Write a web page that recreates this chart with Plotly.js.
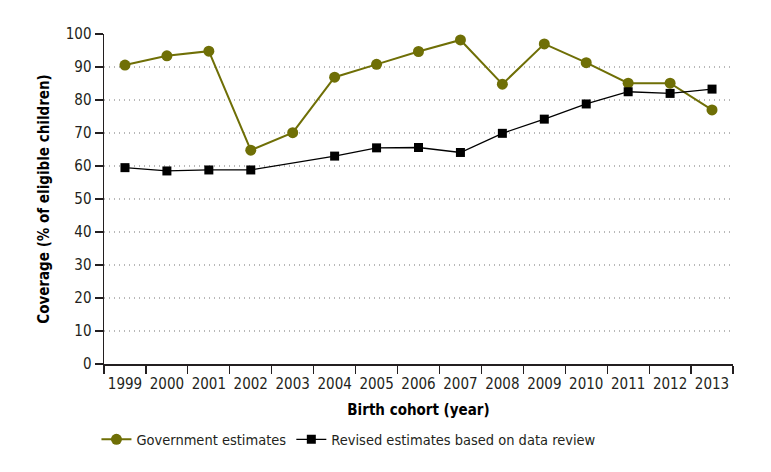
<!DOCTYPE html>
<html>
<head>
<meta charset="utf-8">
<script src="https://cdn.plot.ly/plotly-3.0.1.min.js"></script>
<style>html,body{margin:0;padding:0;background:#fff;}#chart{width:771px;height:472px;}</style>
</head>
<body>
<div id="chart"></div>
<script>
const years = ["1999","2000","2001","2002","2003","2004","2005","2006","2007","2008","2009","2010","2011","2012","2013"];
const governmentEstimates = [90.6, 93.4, 94.8, 64.8, 70.1, 86.9, 90.8, 94.7, 98.2, 84.8, 97.0, 91.3, 85.1, 85.1, 77.0];
const revisedEstimates = [59.5, 58.5, 58.8, 58.8, null, 63.0, 65.5, 65.6, 64.1, 69.9, 74.2, 78.8, 82.5, 82.0, 83.3];
const yTicks = [0,10,20,30,40,50,60,70,80,90,100];

const FONT = '"DejaVu Sans Condensed", "Liberation Sans Narrow", sans-serif';
const OLIVE = '#6f6f06';

const traces = [
  {
    x: years, y: governmentEstimates, name: 'Government estimates',
    type: 'scatter', mode: 'lines+markers',
    line: {color: OLIVE, width: 2},
    marker: {symbol: 'circle', size: 11, color: OLIVE}
  },
  {
    x: years, y: revisedEstimates, name: 'Revised estimates based on data review',
    type: 'scatter', mode: 'lines+markers', connectgaps: true,
    line: {color: '#000000', width: 1.3},
    marker: {symbol: 'square', size: 9, color: '#000000'}
  }
];

const layout = {
  width: 771, height: 472,
  margin: {l: 104, r: 38, t: 34, b: 108},
  paper_bgcolor: '#ffffff', plot_bgcolor: '#ffffff',
  font: {family: FONT, size: 14, color: '#231f20'},
  showlegend: true,
  legend: {orientation: 'h', x: -0.012, xanchor: 'left', y: -0.18, yanchor: 'top',
           font: {family: FONT, size: 14.5, color: '#231f20'}, itemwidth: 30, tracegroupgap: 0},
  xaxis: {
    type: 'category', range: [-0.5, 14.5],
    showline: true, linecolor: '#231f20', linewidth: 1.5,
    ticks: 'outside', tickson: 'boundaries', ticklen: 8, tickcolor: '#231f20', tickwidth: 1.2,
    ticklabelstandoff: 5,
    showgrid: false, zeroline: false, tickangle: 0,
    tickfont: {family: FONT, size: 15, color: '#231f20'},
    title: {text: '<b>Birth cohort (year)</b>', font: {family: FONT, size: 15, color: '#000'}, standoff: 13}
  },
  yaxis: {
    range: [0, 100], tickvals: yTicks, ticktext: yTicks.map(String),
    showline: true, linecolor: '#231f20', linewidth: 1.5,
    ticks: 'outside', ticklen: 8, tickcolor: '#231f20', tickwidth: 1.2,
    showgrid: true, gridcolor: '#b8b8b8', griddash: '1px,4px', gridwidth: 1.5,
    zeroline: false,
    tickfont: {family: FONT, size: 15, color: '#231f20'},
    title: {text: '<b>Coverage (% of eligible children)</b>', font: {family: FONT, size: 15, color: '#000'}, standoff: 12}
  }
};

Plotly.newPlot('chart', traces, layout, {displayModeBar: false, staticPlot: true});
</script>
</body>
</html>
